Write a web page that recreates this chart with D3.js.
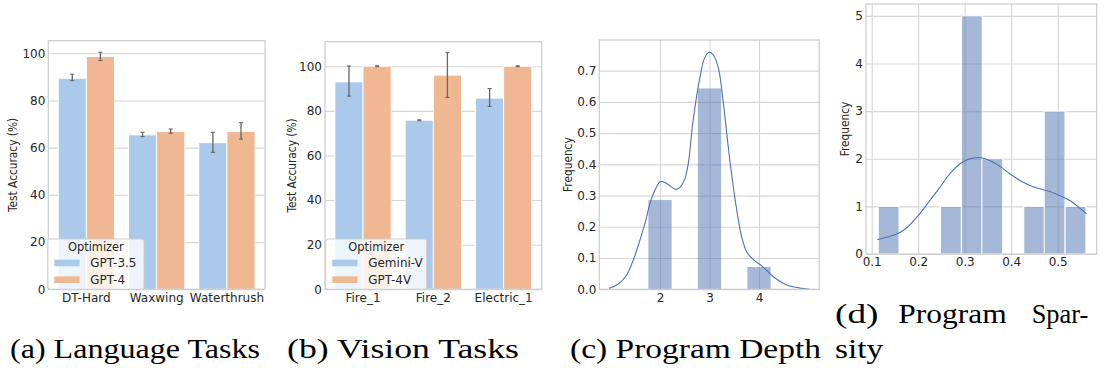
<!DOCTYPE html>
<html>
<head>
<meta charset="utf-8">
<script src="https://cdn.jsdelivr.net/npm/d3@7"></script>
<style>
  body { margin: 0; background: #fff; }
  svg { display: block; }
  .tick text { fill: #262626; font-family: "DejaVu Sans", sans-serif; }
</style>
</head>
<body>
<script>
// ---- data ----
var langTasks = ["DT-Hard", "Waxwing", "Waterthrush"];
var gpt35Acc = [89.4, 65.4, 62.1];
var gpt35Lo = [88.4, 64.7, 58.0];
var gpt35Hi = [91.1, 66.5, 66.5];
var gpt4Acc = [98.6, 66.8, 66.8];
var gpt4Lo = [96.9, 66.1, 63.6];
var gpt4Hi = [100.4, 67.9, 70.6];

var visionTasks = ["Fire_1", "Fire_2", "Electric_1"];
var geminiAcc = [93.0, 75.8, 85.7];
var geminiLo = [86.6, 75.6, 82.0];
var geminiHi = [100.1, 76.0, 90.0];
var gpt4vAcc = [100.0, 96.0, 100.0];
var gpt4vLo = [99.8, 86.0, 99.8];
var gpt4vHi = [100.2, 106.1, 100.2];

var accTicks = [0, 20, 40, 60, 80, 100];

var depthValues = [2, 3, 4];
var depthFreq = [0.2857, 0.6429, 0.0714];
var depthBinWidth = 0.47;
var depthKdeX = [0.97, 1.158, 1.327, 1.461, 1.596, 1.697, 1.798, 1.899, 2.014, 2.135, 2.236, 2.323, 2.418, 2.505, 2.572, 2.67, 2.81, 2.90, 2.99, 3.08, 3.18, 3.28, 3.41, 3.55, 3.65, 3.75, 3.88, 4.08, 4.29, 4.56, 5.02];
var depthKdeY = [0.003, 0.017, 0.046, 0.094, 0.158, 0.211, 0.275, 0.318, 0.345, 0.339, 0.327, 0.320, 0.329, 0.355, 0.403, 0.542, 0.681, 0.740, 0.759, 0.750, 0.708, 0.596, 0.414, 0.254, 0.168, 0.120, 0.096, 0.072, 0.040, 0.014, 0.0];
var depthTicksX = [2, 3, 4];
var depthTicksY = [0, 0.1, 0.2, 0.3, 0.4, 0.5, 0.6, 0.7];

var sparsityBinStart = [0.114, 0.159, 0.203, 0.248, 0.293, 0.337, 0.382, 0.427, 0.471, 0.516];
var sparsityBinWidth = 0.0447;
var sparsityCounts = [1, 0, 0, 1, 5, 2, 0, 1, 3, 1];
var sparsityKdeX = [0.112, 0.132, 0.154, 0.175, 0.200, 0.225, 0.247, 0.268, 0.290, 0.311, 0.333, 0.354, 0.376, 0.397, 0.419, 0.440, 0.462, 0.483, 0.504, 0.526, 0.547, 0.562];
var sparsityKdeY = [0.301, 0.35, 0.42, 0.547, 0.807, 1.123, 1.403, 1.685, 1.896, 2.0, 2.02, 1.965, 1.84, 1.685, 1.544, 1.439, 1.369, 1.312, 1.228, 1.123, 0.969, 0.843];
var sparsityTicksX = [0.1, 0.2, 0.3, 0.4, 0.5];
var sparsityTicksY = [0, 1, 2, 3, 4, 5];

var blue = "#abc9ea", orange = "#efb792", histBlue = "#4c72b0";
var gridColor = "#d6d6d6", frameColor = "#cccccc", errColor = "#666666";
var tickFs = 12;

var svg = d3.select("body").append("svg")
    .attr("width", 1104)
    .attr("height", 369);

// gridlines + tick labels for one axis
function drawGrid(g, axis, transform) {
    var ax = g.append("g").attr("transform", transform).call(axis);
    ax.attr("font-size", tickFs).attr("font-family", "DejaVu Sans, sans-serif");
    ax.select(".domain").remove();
    ax.selectAll(".tick line").attr("stroke", gridColor).attr("stroke-width", 1.1);
    ax.selectAll(".tick text").attr("font-size", tickFs);
    return ax;
}

function drawFrame(g, p) {
    g.append("rect")
        .attr("x", p.left).attr("y", p.top)
        .attr("width", p.right - p.left).attr("height", p.bottom - p.top)
        .attr("fill", "none").attr("stroke", frameColor).attr("stroke-width", 1.25);
}

// axis title, a little wider across (as in the reference)
function yLabel(g, txt, x, y) {
    g.append("text")
        .attr("transform", `translate(${x},${y}) scale(1.18,1) rotate(-90)`)
        .attr("text-anchor", "middle")
        .attr("font-family", "DejaVu Sans, sans-serif")
        .attr("font-size", 10.6)
        .attr("fill", "#262626")
        .text(txt);
}

function barPanel(p) {
    var g = svg.append("g");
    var x = d3.scaleBand().domain(p.cats).range([p.left, p.right])
        .paddingInner(0.2).paddingOuter(0.141);
    var xs = d3.scaleBand().domain(p.series.map(d => d.name)).range([0, x.bandwidth()]);
    var y = d3.scaleLinear().domain([0, p.ymax]).range([p.bottom, p.top]);

    drawGrid(g, d3.axisLeft(y).tickValues(accTicks).tickSize(-(p.right - p.left)).tickPadding(3),
        `translate(${p.left},0)`);
    drawGrid(g, d3.axisBottom(x).tickSize(0).tickPadding(4),
        `translate(0,${p.bottom})`);

    p.series.forEach(function (s) {
        var rows = p.cats.map((c, i) => ({ c: c, v: s.acc[i], lo: s.lo[i], hi: s.hi[i] }));
        g.selectAll(null).data(rows).enter().append("rect")
            .attr("x", d => x(d.c) + xs(s.name))
            .attr("width", xs.bandwidth())
            .attr("y", d => y(d.v))
            .attr("height", d => y(0) - y(d.v))
            .attr("fill", s.color)
            .attr("stroke", "#fff").attr("stroke-width", 0.9);
        var cx = d => x(d.c) + xs(s.name) + xs.bandwidth() / 2;
        g.selectAll(null).data(rows).enter().append("line")
            .attr("x1", cx).attr("x2", cx)
            .attr("y1", d => y(d.lo)).attr("y2", d => y(d.hi))
            .attr("stroke", errColor).attr("stroke-width", 1.3);
        ["lo", "hi"].forEach(function (k) {
            g.selectAll(null).data(rows).enter().append("line")
                .attr("x1", d => cx(d) - 2).attr("x2", d => cx(d) + 2)
                .attr("y1", d => y(d[k])).attr("y2", d => y(d[k]))
                .attr("stroke", errColor).attr("stroke-width", 1.1);
        });
    });

    drawFrame(g, p);
    yLabel(g, "Test Accuracy (%)", p.ylabelX, (p.top + p.bottom) / 2);

    // legend
    var L = p.legend;
    var lg = g.append("g");
    lg.append("rect").attr("x", L.x).attr("y", L.y).attr("width", L.w).attr("height", L.h)
        .attr("rx", 2.5).attr("fill", "#fff").attr("fill-opacity", 0.8)
        .attr("stroke", frameColor).attr("stroke-width", 1);
    lg.append("text").attr("x", L.x + L.w / 2).attr("y", L.y + 11.7)
        .attr("text-anchor", "middle").attr("font-family", "DejaVu Sans, sans-serif")
        .attr("font-size", 11.4).attr("fill", "#262626").text("Optimizer");
    p.series.forEach(function (s, i) {
        var yy = L.y + 24 + i * 16.7;
        lg.append("rect").attr("x", L.x + 6.5).attr("y", yy - 3.3)
            .attr("width", 25.3).attr("height", 6.6).attr("fill", s.color);
        lg.append("text").attr("x", L.x + 42.5).attr("y", yy + 4)
            .attr("font-family", "DejaVu Sans, sans-serif")
            .attr("font-size", 12).attr("fill", "#262626").text(s.name);
    });
}

barPanel({
    left: 48.3, right: 265, top: 40.7, bottom: 289.3, ymax: 105.3,
    cats: langTasks, ylabelX: 17,
    series: [
        { name: "GPT-3.5", color: blue, acc: gpt35Acc, lo: gpt35Lo, hi: gpt35Hi },
        { name: "GPT-4", color: orange, acc: gpt4Acc, lo: gpt4Lo, hi: gpt4Hi }
    ],
    legend: { x: 47.8, y: 239, w: 96.2, h: 50.3 }
});

barPanel({
    left: 325, right: 541.7, top: 41.7, bottom: 289.3, ymax: 111.0,
    cats: visionTasks, ylabelX: 296,
    series: [
        { name: "Gemini-V", color: blue, acc: geminiAcc, lo: geminiLo, hi: geminiHi },
        { name: "GPT-4V", color: orange, acc: gpt4vAcc, lo: gpt4vLo, hi: gpt4vHi }
    ],
    legend: { x: 325.7, y: 239, w: 101, h: 50.3 }
});

// (c) program depth
(function () {
    var p = { left: 599.3, right: 819.3, top: 40, bottom: 289.3 };
    var g = svg.append("g");
    var x = d3.scaleLinear().domain([0.774, 5.218]).range([p.left, p.right]);
    var y = d3.scaleLinear().domain([0, 0.798]).range([p.bottom, p.top]);
    drawGrid(g, d3.axisLeft(y).tickValues(depthTicksY).tickFormat(d3.format(".1f"))
        .tickSize(-(p.right - p.left)).tickPadding(3), `translate(${p.left},0)`);
    drawGrid(g, d3.axisBottom(x).tickValues(depthTicksX).tickFormat(d3.format("d"))
        .tickSize(-(p.bottom - p.top)).tickPadding(4), `translate(0,${p.bottom})`);
    g.selectAll(null).data(depthValues).enter().append("rect")
        .attr("x", (d) => x(d - depthBinWidth / 2))
        .attr("width", x(depthBinWidth) - x(0))
        .attr("y", (d, i) => y(depthFreq[i]))
        .attr("height", (d, i) => y(0) - y(depthFreq[i]))
        .attr("fill", histBlue).attr("fill-opacity", 0.5);
    g.append("path")
        .datum(depthKdeX.map((d, i) => [d, depthKdeY[i]]))
        .attr("d", d3.line().x(d => x(d[0])).y(d => y(d[1])).curve(d3.curveCatmullRom.alpha(0.5)))
        .attr("fill", "none").attr("stroke", histBlue).attr("stroke-width", 1.1);
    drawFrame(g, p);
    yLabel(g, "Frequency", 571.5, (p.top + p.bottom) / 2);
})();

// (d) program sparsity
(function () {
    var p = { left: 866, right: 1096.7, top: 4, bottom: 254 };
    var g = svg.append("g");
    var x = d3.scaleLinear().domain([0.0877, 0.5839]).range([p.left, p.right]);
    var y = d3.scaleLinear().domain([0, 5.25]).range([p.bottom, p.top]);
    drawGrid(g, d3.axisLeft(y).tickValues(sparsityTicksY).tickFormat(d3.format("d"))
        .tickSize(-(p.right - p.left)).tickPadding(3), `translate(${p.left},0)`);
    drawGrid(g, d3.axisBottom(x).tickValues(sparsityTicksX).tickFormat(d3.format(".1f"))
        .tickSize(-(p.bottom - p.top)).tickPadding(3), `translate(0,${p.bottom})`);
    g.selectAll(null).data(sparsityBinStart).enter().append("rect")
        .attr("x", d => x(d))
        .attr("width", x(sparsityBinWidth) - x(0))
        .attr("y", (d, i) => y(sparsityCounts[i]))
        .attr("height", (d, i) => y(0) - y(sparsityCounts[i]))
        .attr("fill", histBlue).attr("fill-opacity", 0.5)
        .attr("stroke", "#fff").attr("stroke-width", 1);
    g.append("path")
        .datum(sparsityKdeX.map((d, i) => [d, sparsityKdeY[i]]))
        .attr("d", d3.line().x(d => x(d[0])).y(d => y(d[1])).curve(d3.curveCatmullRom.alpha(0.5)))
        .attr("fill", "none").attr("stroke", histBlue).attr("stroke-width", 1.1);
    drawFrame(g, p);
    yLabel(g, "Frequency", 848.5, (p.top + p.bottom) / 2);
})();

// captions
var captions = [
    { t: "(a) Language Tasks", x: 10, y: 358, w: 250 },
    { t: "(b) Vision Tasks", x: 287, y: 358, w: 232 },
    { t: "(c) Program Depth", x: 570, y: 358, w: 251 },
    { t: "(d)", x: 835, y: 323, w: 43.5 },
    { t: "Program", x: 898.3, y: 323, w: 108.5 },
    { t: "Spar-", x: 1031.7, y: 323, w: 56.6 },
    { t: "sity", x: 835, y: 358, w: 48.3 }
];
svg.selectAll(null).data(captions).enter().append("text")
    .attr("x", d => d.x).attr("y", d => d.y)
    .attr("textLength", d => d.w).attr("lengthAdjust", "spacingAndGlyphs")
    .attr("font-family", "Liberation Serif, serif")
    .attr("font-size", 26.5)
    .attr("fill", "#000")
    .text(d => d.t);
</script>
</body>
</html>
